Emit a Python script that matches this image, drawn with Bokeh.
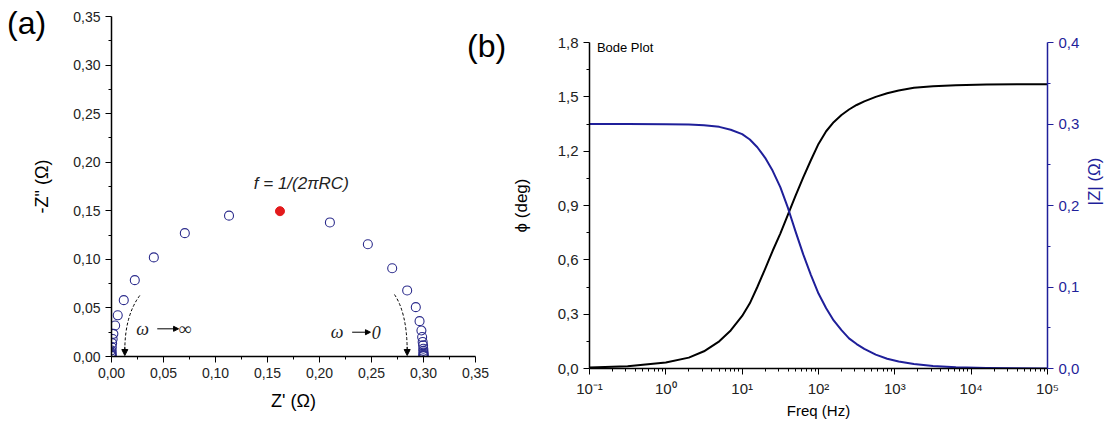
from bokeh.plotting import figure
from bokeh.models import (Range1d, LinearAxis, FixedTicker, Label, Arrow, NormalHead,
                          CustomJSTickFormatter, Div)
from bokeh.embed import file_html
from bokeh.resources import INLINE

# ---------------- data ----------------
# Nyquist (panel a): Z' and -Z'' in ohm
nyq_re = [0.0, 0.0, 0.0, 0.00003, 0.00005, 0.00013, 0.0003, 0.0006, 0.0011, 0.0018,
          0.0035, 0.006, 0.0118, 0.0224, 0.0407, 0.0705, 0.113,
          0.210, 0.2465, 0.2699, 0.2843, 0.2926, 0.2962, 0.298, 0.2987, 0.2992,
          0.2996, 0.2998, 0.2999, 0.3, 0.3, 0.3, 0.3, 0.3]
nyq_im = [0.0005, 0.001, 0.0018, 0.0028, 0.004, 0.0062, 0.0096, 0.0137, 0.018, 0.0233,
          0.0319, 0.0424, 0.058, 0.0786, 0.102, 0.127, 0.145,
          0.138, 0.1156, 0.0909, 0.068, 0.0508, 0.0364, 0.0268, 0.020, 0.015,
          0.0115, 0.008, 0.0058, 0.004, 0.0028, 0.0018, 0.001, 0.0005]
peak_re = [0.162]
peak_im = [0.1496]

# Bode (panel b)
freq_hz = [0.1, 0.316, 1, 2, 3.16, 5.01, 7.08, 10, 12.6, 15.8, 20, 25.1, 31.6, 39.8,
           50.1, 63.1, 79.4, 100, 126, 158, 200, 251, 316, 398, 562, 794, 1122, 1778,
           3162, 6310, 15849, 39811, 100000]
phase = [0.005, 0.012, 0.033, 0.06, 0.095, 0.15, 0.21, 0.29, 0.36, 0.45, 0.55, 0.65,
         0.745, 0.85, 0.955, 1.055, 1.15, 1.24, 1.31, 1.36, 1.40, 1.43, 1.455, 1.475,
         1.50, 1.52, 1.535, 1.55, 1.558, 1.564, 1.568, 1.57, 1.57]
zmod = [0.300, 0.300, 0.2998, 0.2994, 0.2985, 0.2965, 0.293, 0.2875, 0.281, 0.2715,
        0.2585, 0.2425, 0.2225, 0.197, 0.168, 0.140, 0.115, 0.092, 0.074, 0.059, 0.047,
        0.037, 0.030, 0.024, 0.017, 0.012, 0.0085, 0.0055, 0.003, 0.0015, 0.0006,
        0.0002, 0.0001]

nyq_ticks = [0.0, 0.05, 0.1, 0.15, 0.2, 0.25, 0.3, 0.35]
phase_ticks = [0.0, 0.3, 0.6, 0.9, 1.2, 1.5, 1.8]
z_ticks = [0.0, 0.1, 0.2, 0.3, 0.4]
freq_ticks = [0.1, 1, 10, 100, 1000, 10000, 100000]

# ---------------- styling helpers ----------------
FONT = "Liberation Sans"
NARROW = "Liberation Sans Narrow, Liberation Sans"
BLUE = "#1f1f9a"

def comma_fmt(n):
    return CustomJSTickFormatter(code=f"return tick.toFixed({n}).replace('.', ',');")

def style_axis(ax, color="black", font=FONT, size="14px"):
    ax.axis_line_color = color
    ax.axis_line_width = 1.5
    ax.major_tick_line_color = color
    ax.minor_tick_line_color = color
    ax.major_tick_out = 6
    ax.major_tick_in = 0
    ax.minor_tick_out = 3
    ax.minor_tick_in = 0
    ax.major_label_text_font = font
    ax.major_label_text_font_size = size
    ax.major_label_text_color = "#222222" if color == "black" else color
    ax.axis_label_text_font = font
    ax.axis_label_text_font_style = "normal"
    ax.axis_label_text_color = color

def place(model, left, top):
    model.styles = {"position": "absolute", "left": f"{left}px", "top": f"{top}px"}

# ---------------- panel (a) ----------------
p1 = figure(title=None, frame_width=364, frame_height=340, min_border_left=111,
            min_border_right=25, min_border_top=16, min_border_bottom=64,
            x_range=Range1d(0, 0.35), y_range=Range1d(0, 0.35),
            output_backend="svg", toolbar_location=None)
p1.outline_line_color = None
p1.grid.visible = False

minor_a = [0.025, 0.075, 0.125, 0.175, 0.225, 0.275, 0.325]
for ax in (p1.xaxis[0], p1.yaxis[0]):
    ax.ticker = FixedTicker(ticks=nyq_ticks, minor_ticks=minor_a)
    ax.formatter = comma_fmt(2)
    style_axis(ax)
    ax.axis_label_text_font_size = "18px"
p1.xaxis.axis_label = "Z' (\u03a9)"
p1.yaxis.axis_label = '-Z" (\u03a9)'
p1.xaxis.axis_label_standoff = 10
p1.yaxis.axis_label_standoff = 18

p1.scatter(nyq_re, nyq_im, size=9, marker="circle", line_color="#2c2c8c",
           fill_color="white", fill_alpha=0.0, line_width=1.1)
p1.scatter(peak_re, peak_im, size=9, marker="circle", line_color="#e31a1c",
           fill_color="#e31a1c")

p1.add_layout(Label(x=0.1825, y=0.1784, text="f = 1/(2\u03c0RC)", text_align="center",
                    text_baseline="middle", text_font=FONT, text_font_style="italic",
                    text_font_size="17px", text_color="#222222"))

# dashed curved arrows
p1.quadratic(x0=[0.0272, 0.2721], y0=[0.0628, 0.0638], x1=[0.0128, 0.2843], y1=[0.006, 0.008],
             cx=[0.0128, 0.2838], cy=[0.042, 0.045], line_color="black", line_width=1,
             line_dash="3 2")
for xa in (0.0128, 0.2843):
    p1.add_layout(Arrow(x_start=xa, y_start=0.010, x_end=xa, y_end=0.001,
                        end=NormalHead(size=6, fill_color="black", line_color="black"),
                        line_color="black", line_width=1))
# omega labels with small arrows
for xo, xs, xe, xt, yy, t in ((0.030, 0.044, 0.0645, 0.071, 0.0285, "\u221e"),
                              (0.217, 0.2314, 0.249, 0.2545, 0.025, "0")):
    p1.add_layout(Label(x=xo, y=yy, text="\u03c9", text_align="center", text_baseline="middle",
                        text_font="Liberation Serif", text_font_style="italic",
                        text_font_size="18px", text_color="#222222"))
    p1.add_layout(Arrow(x_start=xs, y_start=yy, x_end=xe, y_end=yy,
                        end=NormalHead(size=5, fill_color="black", line_color="black"),
                        line_color="black", line_width=1))
    p1.add_layout(Label(x=xt, y=yy, text=t, text_align="center", text_baseline="middle",
                        text_font="Liberation Serif", text_font_style="italic",
                        text_font_size="18px", text_color="#222222"))

# ---------------- panel (b) ----------------
p2 = figure(title=None, frame_width=458, frame_height=326, min_border_left=89,
            min_border_right=71, min_border_top=42, min_border_bottom=52,
            x_axis_type="log", x_range=Range1d(0.1, 1e5), y_range=Range1d(0, 1.8),
            output_backend="svg", toolbar_location=None)
p2.outline_line_color = None
p2.grid.visible = False
p2.extra_y_ranges = {"z": Range1d(0, 0.4)}

minor_log = [m * d for d in (0.1, 1, 10, 100, 1000, 10000) for m in range(2, 10)]
xax = p2.xaxis[0]
xax.ticker = FixedTicker(ticks=freq_ticks, minor_ticks=minor_log)
xax.formatter = CustomJSTickFormatter(code="""
const e = Math.round(Math.log10(tick));
const sup = {'-':'\u207b','0':'\u2070','1':'\u00b9','2':'\u00b2','3':'\u00b3','4':'\u2074','5':'\u2075'};
return '10' + String(e).split('').map(c => sup[c]).join('');""")
style_axis(xax, font=NARROW, size="15px")
xax.axis_label = "Freq (Hz)"
xax.axis_label_text_font_size = "15px"
xax.axis_label_standoff = 2

yax = p2.yaxis[0]
yax.ticker = FixedTicker(ticks=phase_ticks, minor_ticks=[0.15, 0.45, 0.75, 1.05, 1.35, 1.65])
yax.formatter = comma_fmt(1)
style_axis(yax, font=NARROW, size="15px")
yax.axis_label = "\u03d5 (deg)"
yax.axis_label_text_font_size = "17px"
yax.axis_label_standoff = 24

zax = LinearAxis(y_range_name="z", ticker=FixedTicker(ticks=z_ticks,
                 minor_ticks=[0.05, 0.15, 0.25, 0.35]), formatter=comma_fmt(1))
style_axis(zax, color=BLUE, font=NARROW, size="15px")
zax.axis_label = "|Z| (\u03a9)"
zax.axis_label_text_font_size = "17px"
zax.axis_label_standoff = 12
if "axis_label_orientation" in zax.properties():
    zax.axis_label_orientation = 1.5707963
p2.add_layout(zax, "right")

p2.line(freq_hz, phase, line_color="black", line_width=2, line_join="round")
p2.line(freq_hz, zmod, line_color=BLUE, line_width=2, line_join="round", y_range_name="z")

p2.add_layout(Label(x=0.125, y=1.775, text="Bode Plot", text_align="left",
                    text_baseline="middle", text_font=NARROW, text_font_size="13px",
                    text_color="black"))

# ---------------- panel letters ----------------
letter_style = "font-family: 'Liberation Sans', Arial, sans-serif; font-size: 32px; color: black; line-height: 36px;"
da = Div(text=f"<div style=\"{letter_style}\">(a)</div>", margin=0)
db = Div(text=f"<div style=\"{letter_style}\">(b)</div>", margin=0)

place(p1, 0, 0)
place(p2, 500, 0)
place(da, 7, 5)
place(db, 467, 28)

open("out.html", "w").write(file_html([p1, p2, da, db], INLINE))
